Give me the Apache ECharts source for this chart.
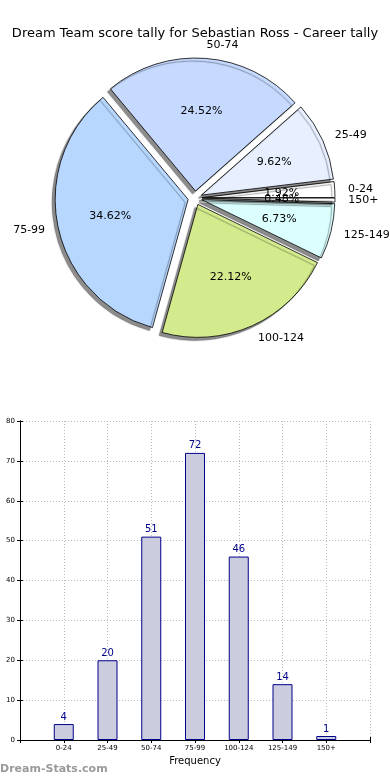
<!DOCTYPE html>
<html><head><meta charset="utf-8">
<script src="https://cdn.jsdelivr.net/npm/echarts@6/dist/echarts.min.js"></script>
<style>html,body{margin:0;padding:0;background:#fff}#c{width:390px;height:780px}</style>
</head><body><div id="c"></div>
<script>
const categories = ['0-24','25-49','50-74','75-99','100-124','125-149','150+'];
const counts = [4, 20, 51, 72, 46, 14, 1];
const sliceColors = ['#ffffff','#e8efff','#c6d9ff','#b7d7ff','#d4eb8d','#dbffff','#ffffff'];
const yTicks = [0,10,20,30,40,50,60,70,80];
const titleText = 'Dream Team score tally for Sebastian Ross - Career tally';

const total = counts.reduce((a,b)=>a+b,0);
const R = 133, OFF = 7, CX = 195, CY = 198;
const font = 'DejaVu Sans';

function pieData(withColor){
  return categories.map((c,i)=>({
    name: c, value: counts[i], selected: true,
    itemStyle: withColor ? {color: sliceColors[i]} : {color:'rgba(0,0,0,0)'}
  }));
}
const common = {
  type:'pie', center:[CX,CY], startAngle:0, clockwise:false,
  selectedMode:'multiple', selectedOffset:OFF, avoidLabelOverlap:false,
  animation:false, silent:true, minAngle:0
};

const chart = echarts.init(document.getElementById('c'), null, {renderer:'canvas'});
chart.setOption({
  animation:false,
  title:{text:titleText, left:'center', top:22, textStyle:{fontFamily:font, fontSize:13, fontWeight:'normal', color:'#000'}},
  graphic:[{type:'text', left:0, top:764, style:{text:'Dream-Stats.com', fontFamily:font, fontSize:11, fontWeight:'bold', fill:'#999'}}],
  grid:{left:20, right:20, top:421, bottom:40},
  xAxis:[{
    type:'value', min:0, max:8, interval:1,
    name:'Frequency', nameLocation:'middle', nameGap:16,
    nameTextStyle:{fontFamily:font, fontSize:10, color:'#000'},
    axisLine:{show:true, lineStyle:{color:'#000'}},
    axisTick:{show:true, inside:true, length:3, lineStyle:{color:'#000'}},
    axisLabel:{fontFamily:font, fontSize:7, color:'#000', margin:5,
      formatter:v=> (v>=1 && v<=categories.length) ? categories[v-1] : ''},
    splitLine:{show:true, lineStyle:{type:[1,2], color:'#bbb'}}
  },{
    type:'value', position:'top', min:0, max:8, interval:1,
    axisLine:{show:true, lineStyle:{color:'#000'}},
    axisTick:{show:true, inside:true, length:3, lineStyle:{color:'#000'}},
    axisLabel:{show:false}, splitLine:{show:false}
  }],
  yAxis:[{
    type:'value', min:yTicks[0], max:yTicks[yTicks.length-1], interval:10,
    axisLine:{show:true, lineStyle:{color:'#000'}},
    axisTick:{show:true, inside:true, length:3, lineStyle:{color:'#000'}},
    axisLabel:{fontFamily:font, fontSize:7, color:'#000', margin:5},
    splitLine:{show:true, lineStyle:{type:[1,2], color:'#bbb'}}
  },{
    type:'value', position:'right', min:0, max:80, interval:10,
    axisLine:{show:true, lineStyle:{color:'#000'}},
    axisTick:{show:true, inside:true, length:3, lineStyle:{color:'#000'}},
    axisLabel:{show:false}, splitLine:{show:false}
  }],
  series:[
    Object.assign({}, common, {
      radius:[0,R], data:pieData(true),
      itemStyle:{borderColor:'#000', borderWidth:0.8, shadowColor:'rgba(0,0,0,0.45)', shadowBlur:1, shadowOffsetX:-3, shadowOffsetY:3},
      label:{show:false}, labelLine:{show:false},
      select:{itemStyle:{borderColor:'#000', borderWidth:0.8}}
    }),
    Object.assign({}, common, {
      radius:[0,R*0.6], data:pieData(false),
      itemStyle:{borderWidth:0},
      label:{show:true, position:'outside', fontFamily:font, fontSize:11, color:'#000',
        distanceToLabelLine:0, formatter:p=> (p.value/total*100).toFixed(2)+'%'},
      labelLine:{show:false, length:0, length2:0},
      labelLayout:{align:'center', verticalAlign:'middle', hideOverlap:false},
      select:{itemStyle:{color:'rgba(0,0,0,0)', borderWidth:0}, label:{color:'#000'}}
    }),
    Object.assign({}, common, {
      radius:[0,R], data:pieData(false),
      itemStyle:{borderWidth:0},
      label:{show:true, position:'outside', fontFamily:font, fontSize:11, color:'#000',
        distanceToLabelLine:0, formatter:'{b}'},
      labelLine:{show:false, length:R*0.1, length2:0},
      select:{itemStyle:{color:'rgba(0,0,0,0)', borderWidth:0}, label:{color:'#000'}}
    }),
    {
      type:'bar', xAxisIndex:0, yAxisIndex:0, barWidth:20,
      data: counts.map((v,i)=>[i+1, v]),
      itemStyle:{color:'#ccccdf', borderColor:'#00008b', borderWidth:1},
      label:{show:true, position:'top', distance:2, fontFamily:font, fontSize:10, color:'#00008b'},
      z:3
    }
  ]
});
</script></body></html>
